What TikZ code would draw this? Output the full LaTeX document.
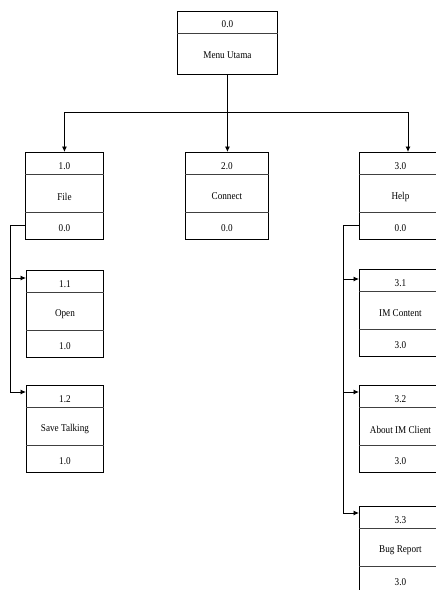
\documentclass[tikz,border=0pt]{standalone}
\usepackage{fontspec}
\setmainfont{Liberation Serif}[FakeStretch=0.88]
\usetikzlibrary{arrows.meta,calc}
\tikzset{
  boxfr/.style={draw=black, line width=0.9pt, fill=white, inner sep=0pt, rectangle},
  divline/.style={draw=black!75, line width=1pt},
  lbl/.style={inner sep=1pt, font=\fontsize{10.4}{12}\selectfont},
  conn/.style={draw=black, line width=0.8pt},
  arr/.style={conn, -{Latex[length=5.5pt,width=5pt]}}
}
% name, xleft, ytop, width, t1, t2, t3
\newcommand\threebox[7]{%
  \node[boxfr, minimum width=#4pt, minimum height=87pt, anchor=north west] (#1) at (#2,#3) {};
  \draw[divline] ([yshift=-22pt]#1.north west) -- ([yshift=-22pt]#1.north east);
  \draw[divline] ([yshift=-60pt]#1.north west) -- ([yshift=-60pt]#1.north east);
  \coordinate (#1-w) at ([yshift=-73.5pt]#1.north west);
  \node[lbl] (#1-a) at ([yshift=-14pt]#1.north) {#5};
  \node[lbl] (#1-b) at ([yshift=-44.5pt]#1.north) {#6};
  \node[lbl] (#1-c) at ([yshift=-76pt]#1.north) {#7};
}
\begin{document}
\begin{tikzpicture}[x=1pt,y=-1pt]
\useasboundingbox (0,0) rectangle (436,590);
\clip (0,0) rectangle (436,590);
% top box
\node[boxfr, minimum width=100pt, minimum height=63pt, anchor=north west] (m) at (177,11) {};
\draw[divline] ([yshift=-22pt]m.north west) -- ([yshift=-22pt]m.north east);
\node[lbl] (m-a) at ([yshift=-13.5pt]m.north) {0.0};
\node[lbl] (m-b) at ([yshift=-44.5pt]m.north) {Menu Utama};
% level 1
\threebox{f}{25}{152}{78}{1.0}{File}{0.0}
\threebox{c}{185}{152}{83}{2.0}{Connect}{0.0}
\threebox{h}{359}{152}{82}{3.0}{Help}{0.0}
% level 2 left
\threebox{o}{26}{270}{77}{1.1}{Open}{1.0}
\threebox{s}{26}{385}{77}{1.2}{Save Talking}{1.0}
% level 2 right
\threebox{i}{359}{269}{82}{3.1}{IM Content}{3.0}
\threebox{a}{359}{385}{82}{3.2}{About IM Client}{3.0}
\threebox{b}{359}{506}{82}{3.3}{Bug Report}{3.0}
% top connectors
\coordinate (bus) at (m.south |- 0,112);
\coordinate (hx) at (408,112);
\draw[conn] (m.south) -- (bus);
\draw[arr] (bus) -| (f.north);
\draw[arr] (bus) -- (bus |- c.north);
\draw[arr] (bus) -- (hx) -- (hx |- h.north);
% left elbow
\coordinate (lx) at (10,0);
\draw[conn] (f-w) -- (f-w -| lx) -- ([yshift=-7pt]s.north west -| lx);
\draw[arr] ([yshift=-8pt]o.north west -| lx) -- ([yshift=-8pt]o.north west);
\draw[arr] ([yshift=-7pt]s.north west -| lx) -- ([yshift=-7pt]s.north west);
% right elbow
\coordinate (rx) at (343,0);
\draw[conn] (h-w) -- (h-w -| rx) -- ([yshift=-7pt]b.north west -| rx);
\draw[arr] ([yshift=-10pt]i.north west -| rx) -- ([yshift=-10pt]i.north west);
\draw[arr] ([yshift=-7pt]a.north west -| rx) -- ([yshift=-7pt]a.north west);
\draw[arr] ([yshift=-7pt]b.north west -| rx) -- ([yshift=-7pt]b.north west);
\end{tikzpicture}
\end{document}
